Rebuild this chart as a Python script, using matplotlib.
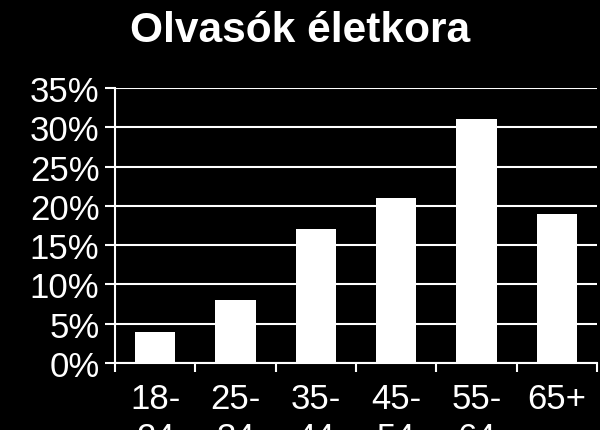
import matplotlib
matplotlib.use("Agg")
import matplotlib.pyplot as plt
import numpy as np

categories = ["18-\n24", "25-\n34", "35-\n44", "45-\n54", "55-\n64", "65+"]
values = [4, 8, 17, 21, 31, 19]
yticks = [0, 5, 10, 15, 20, 25, 30, 35]
title = "Olvasók életkora"

plt.rcParams['font.family'] = ['Liberation Sans', 'DejaVu Sans']

fig = plt.figure(figsize=(6, 4.31), dpi=100, facecolor='black')
ax = fig.add_axes([115/600, 1-364/431, 482/600, (364-89)/431])
ax.set_facecolor('black')

x = np.arange(len(categories))
ax.set_axisbelow(True)
ax.yaxis.grid(True, color='white', linewidth=1.5)
ax.bar(x, values, width=0.5, color='white', zorder=3)

ax.set_xlim(-0.5, len(categories) - 0.5)
ax.set_ylim(0, 35)
ax.set_yticks(yticks)
ax.set_yticklabels([f"{v}%" for v in yticks])
ax.set_xticks(x)
ax.set_xticklabels(categories, linespacing=1.2)
ax.set_xticks(np.arange(len(categories) + 1) - 0.5, minor=True)

ax.tick_params(axis='y', colors='white', labelsize=25, length=7.2, width=1.5, pad=4)
ax.tick_params(axis='x', which='major', colors='white', labelsize=25, length=0, pad=14)
ax.tick_params(axis='x', which='minor', colors='white', length=6.5, width=1.5)

for s in ['top', 'right']:
    ax.spines[s].set_visible(False)
for s in ['left', 'bottom']:
    ax.spines[s].set_color('white')
    ax.spines[s].set_linewidth(1.5)

fig.text(0.5, 1-41.5/431, title, color='white', fontsize=30.6, fontweight='bold',
         ha='center', va='baseline')

fig.savefig("out.png", dpi=100, facecolor='black')
